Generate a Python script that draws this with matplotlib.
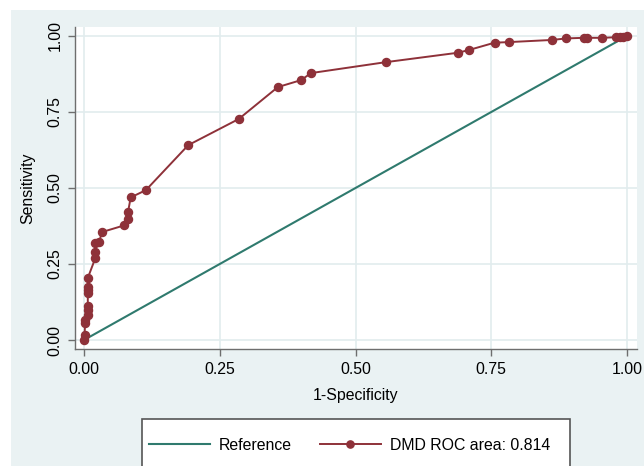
import matplotlib
matplotlib.use('Agg')
import matplotlib.pyplot as plt
from matplotlib.patches import Rectangle
from matplotlib.lines import Line2D

# ROC points
fpr = [0.0, 0.001, 0.002, 0.002, 0.007, 0.007, 0.007, 0.007, 0.007, 0.007, 0.007,
       0.021, 0.021, 0.021, 0.028, 0.033, 0.074, 0.081, 0.081, 0.086, 0.114,
       0.192, 0.285, 0.357, 0.400, 0.418, 0.556, 0.689, 0.709, 0.756, 0.783,
       0.862, 0.888, 0.920, 0.926, 0.954, 0.980, 0.987, 0.993, 1.0]
tpr = [0.0, 0.016, 0.055, 0.066, 0.082, 0.100, 0.112, 0.154, 0.165, 0.175, 0.204,
       0.270, 0.290, 0.320, 0.323, 0.355, 0.377, 0.398, 0.420, 0.469, 0.493,
       0.641, 0.727, 0.832, 0.855, 0.878, 0.914, 0.945, 0.954, 0.978, 0.980,
       0.987, 0.992, 0.994, 0.994, 0.994, 0.996, 0.996, 0.996, 1.0]
ref_x = [0, 1]
ref_y = [0, 1]
ticks = [0, 0.25, 0.5, 0.75, 1.0]
tick_labels = ['0.00', '0.25', '0.50', '0.75', '1.00']
roc_label = 'DMD ROC area: 0.814'

RED = '#8E3139'
TEAL = '#2F7A6E'
BG = '#EAF2F3'
GRID = '#E2ECEE'
AXC = '#6E6E6E'

plt.rcParams['font.family'] = ['Liberation Sans', 'DejaVu Sans']
plt.rcParams['font.size'] = 11.4

W, H = 644, 466
fig = plt.figure(figsize=(W / 100, H / 100), dpi=100, facecolor='white')
fig.patches.append(Rectangle((11 / W, 0), 1, 1 - 10 / H, transform=fig.transFigure,
                             facecolor=BG, edgecolor='none', zorder=-10))

ax = fig.add_axes([75 / W, 1 - 349 / H, (637 - 75) / W, (349 - 27) / H])
ax.set_facecolor('white')
ax.set_xlim(-9 / 543, 1 + 10 / 543)
ax.set_ylim(-9 / 304, 1 + 9 / 304)

ax.plot(ref_x, ref_y, color=TEAL, lw=1.5, zorder=3)
ax.plot(fpr, tpr, color=RED, lw=1.4, marker='o', markersize=5.8, zorder=4)

ax.set_xticks(ticks)
ax.set_xticklabels(tick_labels)
ax.set_yticks(ticks)
ax.set_yticklabels(tick_labels, rotation=90, va='center')
ax.grid(True, color=GRID, lw=1.2, zorder=0)
ax.set_axisbelow(True)

for s in ['top', 'right']:
    ax.spines[s].set_visible(False)
for s in ['left', 'bottom']:
    ax.spines[s].set_color(AXC)
    ax.spines[s].set_linewidth(1)
ax.tick_params(length=5, width=1, color=AXC, pad=4)

ax.set_xlabel('1-Specificity', labelpad=8)
ax.set_ylabel('Sensitivity', labelpad=9)

# legend box
fig.patches.append(Rectangle((142 / W, -0.2), (570 - 142) / W, 0.2 + 1 - 419 / H,
                             transform=fig.transFigure, facecolor='white',
                             edgecolor='#555555', lw=1.2, zorder=-5))
handles = [Line2D([], [], color=TEAL, lw=1.5),
           Line2D([], [], color=RED, lw=1.4, marker='o', markersize=5.2)]
leg = fig.legend(handles, ['Reference', roc_label], loc='center left',
                 bbox_to_anchor=(149 / W, 1 - 445 / H), ncol=2, frameon=False,
                 borderpad=0, borderaxespad=0, handlelength=3.85,
                 handletextpad=0.57, columnspacing=1.76)

fig.savefig('out.png', dpi=100, facecolor='white')
